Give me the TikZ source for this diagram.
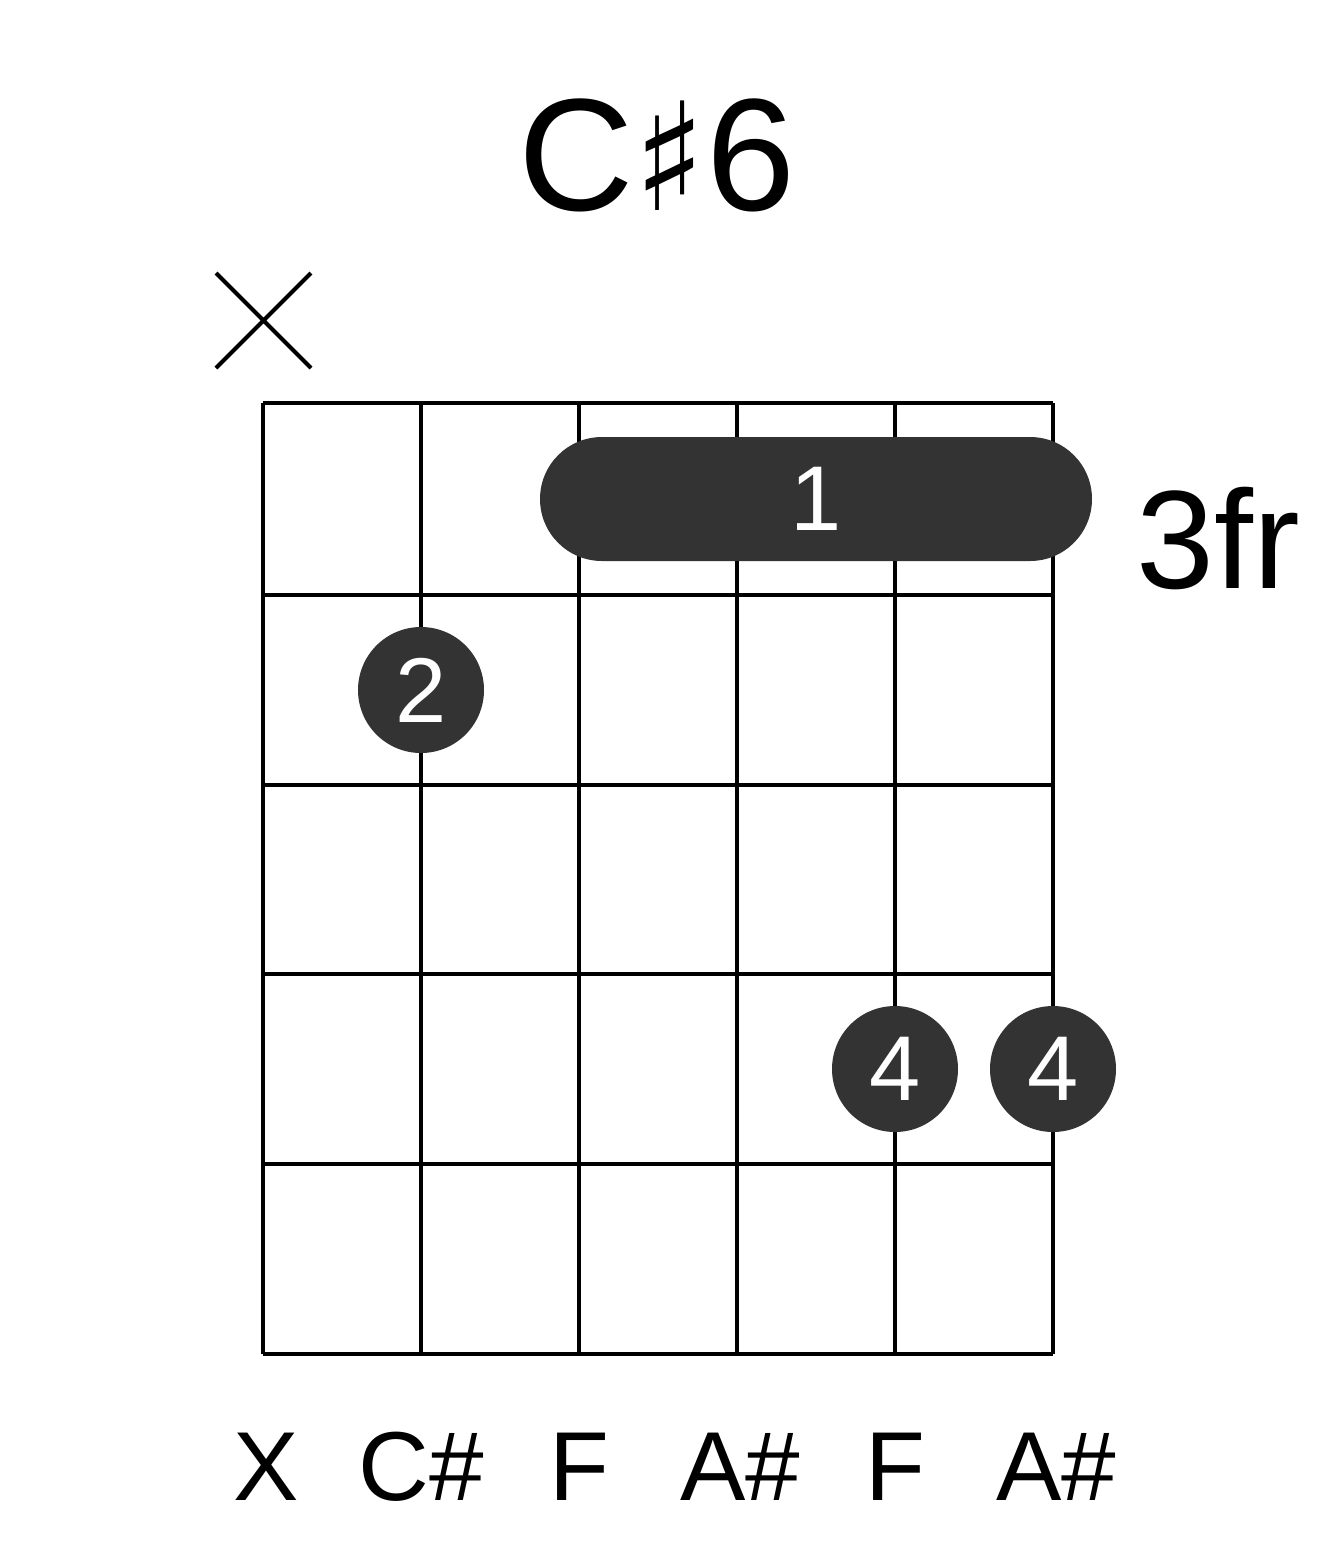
\documentclass[tikz,border=0pt]{standalone}
\usepackage{fontspec}
\setmainfont{Liberation Sans}
\newfontfamily\symfont{DejaVu Sans}
\definecolor{dotc}{HTML}{333333}
\begin{document}
\begin{tikzpicture}[x=1pt,y=-1pt,
 grid/.style={line width=4pt,black},
 fing/.style={circle,fill=dotc,minimum size=126pt,inner sep=0pt,text=white,font=\fontsize{92}{92}\selectfont},
 lab/.style={font=\fontsize{98}{98}\selectfont,anchor=base}]
\useasboundingbox (0,0) rectangle (1317,1551);
\foreach \y in {403,595,785,974,1164,1354} \draw[grid] (263,\y) -- (1053,\y);
\foreach \x in {263,421,579,737,895,1053} \draw[grid] (\x,403) -- (\x,1354);
\node[fill=dotc,rounded corners=62pt,minimum width=552pt,minimum height=124pt,inner sep=0pt,text=white,font=\fontsize{92}{92}\selectfont] (barre) at (816,499) {1};
\node[fing] (f2) at (421,690) {2};
\node[fing] (f4a) at (895,1069) {4};
\node[fing] (f4b) at (1053,1069) {4};
\node[font=\fontsize{160}{160}\selectfont,anchor=base] (title) at (657,210) {C{\symfont\fontsize{150}{150}\selectfont ♯}6};
\node[font=\fontsize{140}{140}\selectfont,anchor=base west] (fr) at (1133,588) {3fr};
\draw[line width=4pt] (216,273) -- (311,368) (216,368) -- (311,273);
\foreach \x/\t in {266/X,421/C\#,579/F,740/A\#,895/F,1056/A\#}
  \node[lab] at (\x,1500) {\t};
\end{tikzpicture}
\end{document}
